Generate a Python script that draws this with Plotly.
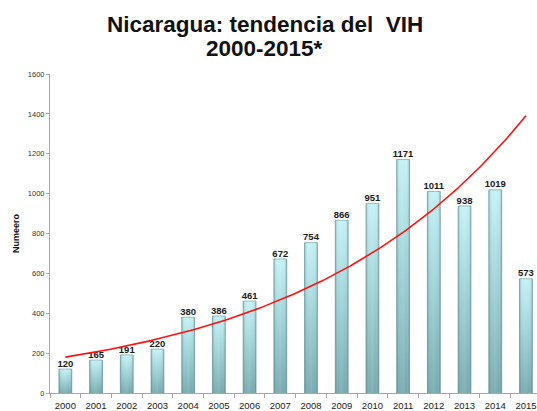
import numpy as np
import plotly.graph_objects as go

# Casos de VIH registrados por año
years = list(range(2000, 2016))
casos = [120, 165, 191, 220, 380, 386, 461, 672, 754, 866, 951, 1171, 1011, 938, 1019, 573]
y_ticks = [0, 200, 400, 600, 800, 1000, 1200, 1400, 1600]

title_line1 = "Nicaragua: tendencia del&nbsp; VIH"
title_line2 = "2000-2015*"
y_title = "Numeero"

FONT = "Liberation Sans, Arial, sans-serif"
BAR_HALF = 0.21

fig = go.Figure()

# Columnas con degradado vertical (claro arriba, verde azulado abajo)
for yr, v in zip(years, casos):
    xs = [yr - BAR_HALF, yr - BAR_HALF, yr + BAR_HALF, yr + BAR_HALF, yr - BAR_HALF]
    ys = [0, v, v, 0, 0]
    fig.add_trace(go.Scatter(
        x=xs, y=ys, mode="lines", fill="toself",
        line=dict(color="#7eaaae", width=0.8),
        fillgradient=dict(type="vertical",
                          colorscale=[[0, "#74a8ad"], [0.55, "#9ed2d7"], [1, "#c3f1f5"]]),
        hoverinfo="skip", showlegend=False,
    ))
    # sombreado lateral para dar volumen
    fig.add_trace(go.Scatter(
        x=xs, y=ys, mode="lines", fill="toself",
        line=dict(color="rgba(0,0,0,0)", width=0),
        fillgradient=dict(type="horizontal",
                          colorscale=[[0, "rgba(50,90,95,0.35)"], [0.25, "rgba(255,255,255,0.05)"],
                                      [0.5, "rgba(255,255,255,0.12)"], [0.75, "rgba(255,255,255,0.0)"],
                                      [1, "rgba(50,90,95,0.35)"]]),
        hoverinfo="skip", showlegend=False,
    ))

# Etiquetas de valor
fig.add_trace(go.Scatter(
    x=years, y=casos, mode="text",
    text=[str(v) for v in casos], textposition="top center",
    textfont=dict(family=FONT, size=9.5, color="#1a1a1a", weight="bold"),
    hoverinfo="skip", showlegend=False,
))

# Línea de tendencia exponencial ajustada a los datos
yr_arr = np.array(years, dtype=float)
slope, intercept = np.polyfit(yr_arr - years[0], np.log(casos), 1)
tx = np.linspace(years[0], years[-1], 200)
ty = np.exp(intercept + slope * (tx - years[0]))
fig.add_trace(go.Scatter(
    x=tx, y=ty, mode="lines",
    line=dict(color="#ff1010", width=1.6),
    hoverinfo="skip", showlegend=False,
))

fig.update_layout(
    width=537, height=411,
    margin=dict(l=50, r=0, t=74, b=18),
    paper_bgcolor="white", plot_bgcolor="white",
    font=dict(family=FONT, color="#333333"),
    annotations=[
        dict(text=f"<b>{title_line1}</b>", xref="paper", yref="paper",
             x=(265 - 50) / 487, y=(393 - 24) / 319, xanchor="center", yanchor="middle",
             showarrow=False, font=dict(family=FONT, size=22.5, color="#111111")),
        dict(text=f"<b>{title_line2}</b>", xref="paper", yref="paper",
             x=(264 - 50) / 487, y=(393 - 49) / 319, xanchor="center", yanchor="middle",
             showarrow=False, font=dict(family=FONT, size=22.5, color="#111111")),
    ],
)

fig.update_xaxes(
    range=[years[0] - 0.5, years[-1] + 0.36],
    tickmode="array", tickvals=years, ticktext=[str(y) for y in years],
    ticks="", ticklabelstandoff=4,
    tickfont=dict(family=FONT, size=9.5, color="#222222"),
    showline=True, linecolor="#a8a8a8", linewidth=1,
    showgrid=False, zeroline=False,
    minor=dict(tick0=years[0] - 0.5, dtick=1, ticks="outside", ticklen=4,
               tickcolor="#a8a8a8", showgrid=False),
)

fig.update_yaxes(
    range=[0, 1600], tickmode="array", tickvals=y_ticks,
    ticks="outside", ticklen=3, tickcolor="#a8a8a8",
    tickfont=dict(family=FONT, size=7.5, color="#333333"),
    showline=True, linecolor="#a8a8a8", linewidth=1,
    showgrid=False, zeroline=False,
    title=dict(text=f"<b>{y_title}</b>", standoff=6,
               font=dict(family=FONT, size=9, color="#111111")),
)

fig.write_html("out.html")
